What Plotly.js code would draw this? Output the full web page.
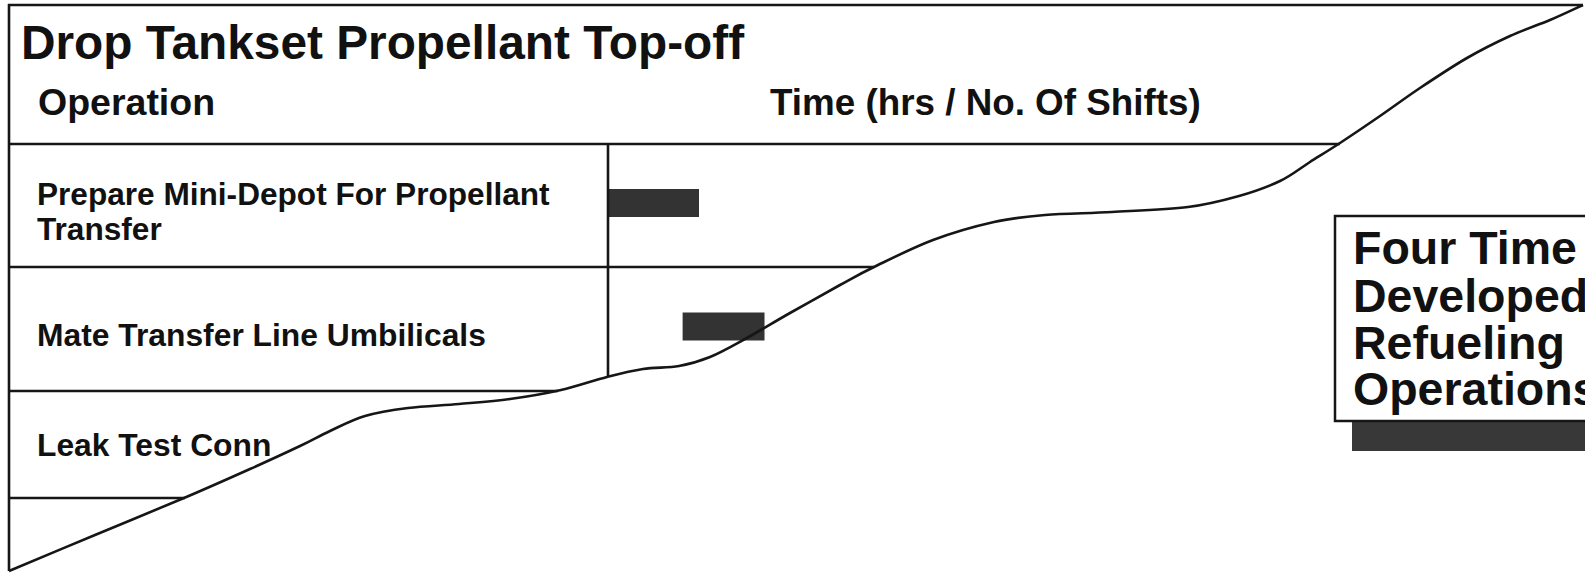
<!DOCTYPE html>
<html>
<head>
<meta charset="utf-8">
<script src="https://cdn.plot.ly/plotly-3.0.1.min.js"></script>
<style>
html,body{margin:0;padding:0;background:#fff;}
#chart{width:1585px;height:581px;}
</style>
</head>
<body>
<div id="chart"></div>
<script>
// ---- data ----
const operations = ["Prepare Mini-Depot For Propellant Transfer", "Mate Transfer Line Umbilicals", "Leak Test Conn"];
const startHrs = [0, 0.82, null];
const durationHrs = [1.0, 0.9, null];

const titleText = "Drop Tankset Propellant Top-off";
const headerOperation = "Operation";
const headerTime = "Time (hrs / No. Of Shifts)";
const rowLabelLines = [["Prepare Mini-Depot For Propellant", "Transfer"], ["Mate Transfer Line Umbilicals"], ["Leak Test Conn"]];
const calloutLines = ["Four Time", "Developed", "Refueling", "Operations"];

// ---- layout geometry (pixels) ----
const W = 1585, H = 581;
const fx = x => x / W;
const fy = y => 1 - y / H;
const PX_PER_HR = 91, T0_PX = 608;
const ROW0_PX = 203, ROW_PX = 123.5;

const ink = '#161616';
const lw = 2.6;

function line(x0, y0, x1, y1) {
  return {type: 'line', xref: 'paper', yref: 'paper', x0: fx(x0), y0: fy(y0), x1: fx(x1), y1: fy(y1),
          line: {color: ink, width: lw}};
}

// torn-edge outline of the page (decoration)
const tearEdge = [[9,571],[95,535],[184,498],[250,469],[300,446],[330,431],[365,416],[408,408],
  [459,404],[510,399],[561,390],[607,377],[643,369],[679,366],[710,357],[745,339],[790,313],
  [840,285],[874,267],[933,240],[994,222],[1045,215],[1112,212],[1188,207],[1239,196],[1280,181],
  [1310,162],[1340,143],[1380,116],[1420,88],[1467,58],[1510,36],[1550,20],[1583,5]];

function smoothPath(pts) {
  let d = 'M' + fx(pts[0][0]) + ',' + fy(pts[0][1]);
  for (let i = 0; i < pts.length - 1; i++) {
    const p0 = pts[i - 1] || pts[i], p1 = pts[i], p2 = pts[i + 1], p3 = pts[i + 2] || pts[i + 1];
    const c1x = p1[0] + (p2[0] - p0[0]) / 6, c1y = p1[1] + (p2[1] - p0[1]) / 6;
    const c2x = p2[0] - (p3[0] - p1[0]) / 6, c2y = p2[1] - (p3[1] - p1[1]) / 6;
    d += ' C' + fx(c1x) + ',' + fy(c1y) + ' ' + fx(c2x) + ',' + fy(c2y) + ' ' + fx(p2[0]) + ',' + fy(p2[1]);
  }
  return d;
}

const shapes = [
  line(8, 5, 1583, 5),        // top border
  line(9, 4, 9, 571),         // left border
  line(9, 144, 1340, 144),    // header rule
  line(9, 267, 874, 267),     // row rule 1
  line(9, 391, 558, 391),     // row rule 2
  line(9, 498, 185, 498),     // row rule 3
  line(608, 144, 608, 377),   // column divider
  {type: 'path', xref: 'paper', yref: 'paper', path: smoothPath(tearEdge),
   line: {color: ink, width: lw}},
  // callout box shadow + box
  {type: 'rect', xref: 'paper', yref: 'paper', x0: fx(1352), x1: fx(1620), y0: fy(421), y1: fy(451),
   fillcolor: '#383838', line: {width: 0}},
  {type: 'rect', xref: 'paper', yref: 'paper', x0: fx(1335), x1: fx(1640), y0: fy(216), y1: fy(421),
   fillcolor: '#ffffff', line: {color: ink, width: 2.5}}
];

function label(text, x, y, size) {
  return {text: '<b>' + text + '</b>', xref: 'paper', yref: 'paper', x: fx(x), y: fy(y),
          xanchor: 'left', yanchor: 'middle', showarrow: false, borderpad: 0,
          font: {family: 'Liberation Sans, Arial, sans-serif', size: size, color: '#111'}};
}

const annotations = [
  label(titleText, 20, 43, 47.8),
  label(headerOperation, 37, 102, 37.5),
  label(headerTime, 769, 102, 36.8),
  label(rowLabelLines[0][0], 36, 194, 31.6),
  label(rowLabelLines[0][1], 36, 229, 31.6),
  label(rowLabelLines[1][0], 36, 335, 31.8),
  label(rowLabelLines[2][0], 36, 445, 31.8)
];
const calloutY = [248, 296, 343, 389];
calloutLines.forEach((t, i) => annotations.push(label(t, 1352, calloutY[i], 46.5)));

const traces = [{
  type: 'bar', orientation: 'h',
  y: operations, x: durationHrs, base: startHrs,
  width: 0.225,
  marker: {color: '#333333', line: {width: 0}},
  hoverinfo: 'skip'
}];

const layout = {
  width: W, height: H,
  margin: {l: 0, r: 0, t: 0, b: 0},
  paper_bgcolor: '#ffffff', plot_bgcolor: '#ffffff',
  showlegend: false,
  xaxis: {range: [-T0_PX / PX_PER_HR, (W - T0_PX) / PX_PER_HR], visible: false, fixedrange: true},
  yaxis: {type: 'category', categoryorder: 'array', categoryarray: operations,
          range: [(H - ROW0_PX) / ROW_PX, -ROW0_PX / ROW_PX], visible: false, fixedrange: true},
  shapes: shapes,
  annotations: annotations
};

Plotly.newPlot('chart', traces, layout, {staticPlot: true, displayModeBar: false});
</script>
</body>
</html>
